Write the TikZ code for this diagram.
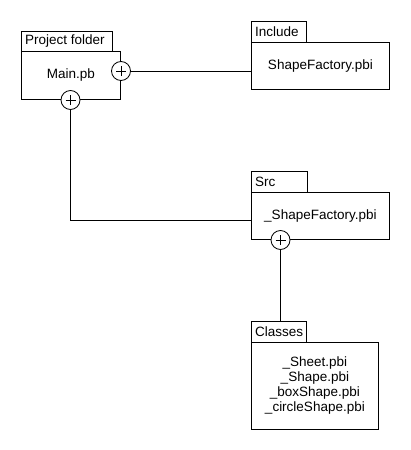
\documentclass[tikz,border=0pt]{standalone}
\usepackage{fontspec}
\setmainfont{Liberation Sans}
\begin{document}
\begin{tikzpicture}[x=1pt,y=-1pt,
  every node/.style={font=\fontsize{13.5}{15}\selectfont},
  box/.style={draw,line width=0.8pt,anchor=north west,inner sep=0pt,fill=white},
  tablabel/.style={anchor=west,inner sep=0pt},
  plus/.style={draw,circle,line width=0.8pt,fill=white,minimum size=19pt,inner sep=0pt,
    path picture={\draw[line width=0.8pt] ([xshift=-5pt]path picture bounding box.center) -- ([xshift=5pt]path picture bounding box.center)
      ([yshift=-5pt]path picture bounding box.center) -- ([yshift=5pt]path picture bounding box.center);}}]
\useasboundingbox (0,0) rectangle (410,450);
% Project folder
\node[box,minimum width=91pt,minimum height=20pt] (pftab) at (21,31) {};
\node[tablabel] (pftabt) at (25,41.5) {Project folder};
\node[box,minimum width=99pt,minimum height=48pt] (pfbody) at (21,51) {Main.pb};
% Include
\node[box,minimum width=55pt,minimum height=21pt] (inctab) at (251,21) {};
\node[tablabel] (inctabt) at (255,31.5) {Include};
\node[box,minimum width=138pt,minimum height=47pt] (incbody) at (251,42) {ShapeFactory.pbi};
% Src
\node[box,minimum width=56pt,minimum height=21pt] (srctab) at (251,171) {};
\node[tablabel] (srctabt) at (255,181.5) {Src};
\node[box,minimum width=138pt,minimum height=47pt] (srcbody) at (251,192) {\raisebox{-3pt}{\_ShapeFactory.pbi}};
% Classes
\node[box,minimum width=55pt,minimum height=21pt] (clstab) at (251,321) {};
\node[tablabel] (clstabt) at (255,331.5) {Classes};
\node[box,minimum width=127pt,minimum height=87pt,align=center] (clsbody) at (251,342)
  {\_Sheet.pbi\\\_Shape.pbi\\\_boxShape.pbi\\\_circleShape.pbi};
% connectors
\coordinate (srcin) at (251,220);
\coordinate (incin) at (251,71);
\node[plus] (pfright) at (121,71) {};
\node[plus] (pfbot) at (70.5,100) {};
\node[plus] (srcbot) at (280.5,240) {};
\draw[line width=0.8pt] (pfright.east) -- (incin);
\draw[line width=0.8pt] (pfbot.south) |- (srcin);
\draw[line width=0.8pt] (srcbot.south) -- (srcbot.south |- clstab.north);
\end{tikzpicture}
\end{document}
